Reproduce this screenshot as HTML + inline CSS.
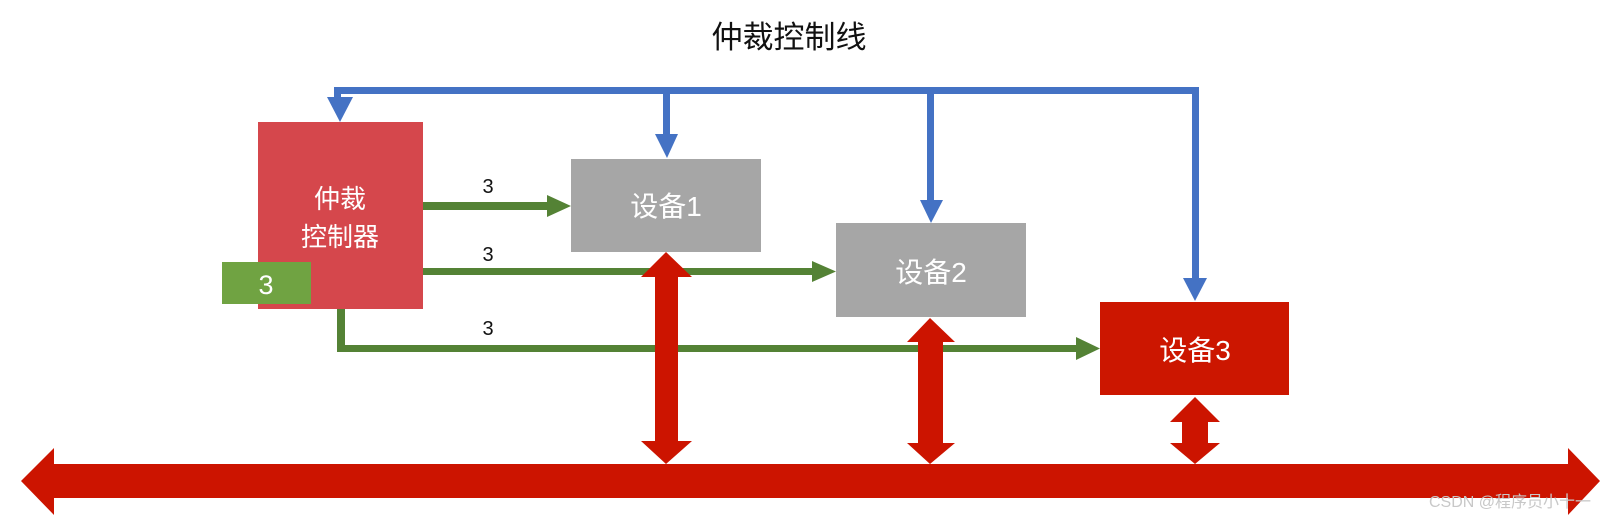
<!DOCTYPE html>
<html><head><meta charset="utf-8"><style>
html,body{margin:0;padding:0;background:#fff;}
svg{display:block;}
text{font-family:"Liberation Sans","Noto Sans CJK SC",sans-serif;}
</style></head><body>
<svg width="1621" height="520" viewBox="0 0 1621 520" xmlns="http://www.w3.org/2000/svg">
<text x="789" y="48" font-size="31" text-anchor="middle" fill="#111">仲裁控制线</text>
<!-- blue control lines -->
<g fill="#4472c4">
<rect x="334" y="87" width="865" height="7"/>
<rect x="334" y="87" width="7" height="14"/>
<polygon points="327,97 353,97 340,122"/>
<rect x="663" y="87" width="7" height="50"/>
<polygon points="655,134 678,134 667,158"/>
<rect x="927" y="87" width="7" height="116"/>
<polygon points="920,200 943,200 931,223"/>
<rect x="1192" y="87" width="7" height="194"/>
<polygon points="1183,278 1207,278 1195,301"/>
</g>
<!-- controller -->
<rect x="258" y="122" width="165" height="187" fill="#d5474c"/>
<text x="340" y="208" font-size="26" fill="#fff" text-anchor="middle">仲裁</text>
<text x="340" y="246" font-size="26" fill="#fff" text-anchor="middle">控制器</text>
<rect x="222" y="262" width="89" height="42" fill="#70a342"/>
<text x="266" y="294" font-size="27" fill="#fff" text-anchor="middle">3</text>
<!-- devices -->
<rect x="571" y="159" width="190" height="93" fill="#a6a6a6"/>
<text x="666" y="216" font-size="28" fill="#fff" text-anchor="middle">设备1</text>
<rect x="836" y="223" width="190" height="94" fill="#a6a6a6"/>
<text x="931" y="282" font-size="28" fill="#fff" text-anchor="middle">设备2</text>
<rect x="1100" y="302" width="189" height="93" fill="#cc1600"/>
<text x="1195" y="360" font-size="28" fill="#fff" text-anchor="middle">设备3</text>
<!-- green arrows -->
<g fill="#548235">
<rect x="423" y="202" width="126" height="8"/>
<polygon points="547,195 571,206 547,217"/>
<rect x="423" y="268" width="392" height="7"/>
<polygon points="812,261 836,271.5 812,282"/>
<rect x="337" y="309" width="8" height="43"/>
<rect x="337" y="345" width="741" height="7"/>
<polygon points="1076,337 1100,348.5 1076,360"/>
</g>
<g font-size="20" fill="#111" text-anchor="middle">
<text x="488" y="193">3</text>
<text x="488" y="261">3</text>
<text x="488" y="335">3</text>
</g>
<!-- red bus and arrows -->
<g fill="#cc1400">
<polygon points="21,481 54,448 54,464 1568,464 1568,448 1600,481 1568,515 1568,498 54,498 54,515"/>
<polygon points="666,252 692,277 678,277 678,441 692,441 666,464 641,441 655,441 655,277 641,277"/>
<polygon points="930,318 955,342 943,342 943,443 955,443 930,464 907,443 918,443 918,342 907,342"/>
<polygon points="1195,397 1220,422 1208,422 1208,443 1220,443 1195,464 1170,443 1182,443 1182,422 1170,422"/>
</g>
<text x="1510" y="507" font-size="16" fill="#c8c8c8" text-anchor="middle">CSDN @程序员小十一</text>
</svg>
</body></html>
